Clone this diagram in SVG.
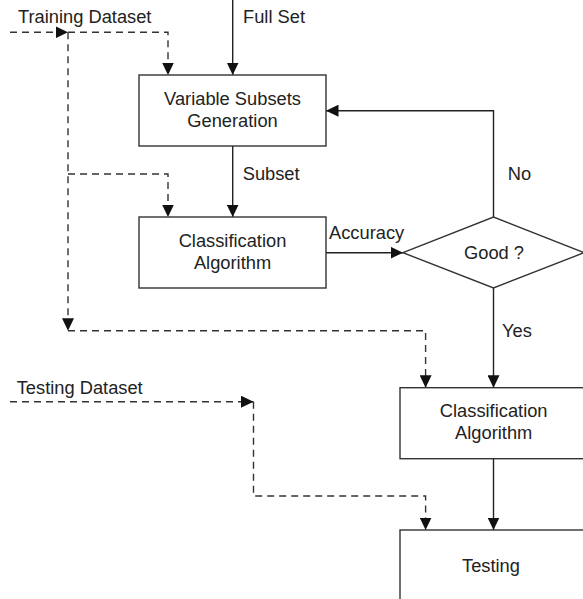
<svg xmlns="http://www.w3.org/2000/svg" width="583" height="599" viewBox="0 0 583 599">
<style>
  .box { fill: #fff; stroke: #333; stroke-width: 1.4; }
  .solid { fill: none; stroke: #222; stroke-width: 1.4; }
  .dash { fill: none; stroke: #333; stroke-width: 1.4; stroke-dasharray: 7 5; }
  text { font-family: "Liberation Sans", Arial, sans-serif; font-size: 18.3px; fill: #222; }
  .c { text-anchor: middle; }
</style>
<defs>
  <marker id="arr" markerUnits="userSpaceOnUse" markerWidth="13" markerHeight="12" refX="12.5" refY="6" orient="auto">
    <path d="M0,0 L12.5,6 L0,12 z" fill="#111"/>
  </marker>
</defs>
<rect width="583" height="599" fill="#fff"/>

<g id="connectors">
  <path class="solid" d="M232.7,0 V75" marker-end="url(#arr)"/>
  <path class="solid" d="M232.7,146 V217" marker-end="url(#arr)"/>
  <path class="solid" d="M326,252.7 H403" marker-end="url(#arr)"/>
  <path class="solid" d="M493.5,217 V110.7 H326" marker-end="url(#arr)"/>
  <path class="solid" d="M493.5,288 V387.7" marker-end="url(#arr)"/>
  <path class="solid" d="M493.5,458.7 V530" marker-end="url(#arr)"/>

  <path class="dash" d="M10,32.3 H68" marker-end="url(#arr)"/>
  <path class="dash" d="M68,32.3 H168 V75" marker-end="url(#arr)"/>
  <path class="dash" d="M68,32.3 V330.7" marker-end="url(#arr)"/>
  <path class="dash" d="M68,174 H168 V217" marker-end="url(#arr)"/>
  <path class="dash" d="M68,330.7 H425.6 V387.7" marker-end="url(#arr)"/>

  <path class="dash" d="M10,401.7 H253.5" marker-end="url(#arr)"/>
  <path class="dash" d="M253.5,401.7 V496 H425.6 V530" marker-end="url(#arr)"/>

  <text x="18" y="23">Training Dataset</text>
  <text x="243" y="23">Full Set</text>
  <text x="242.7" y="180">Subset</text>
  <text x="329" y="239">Accuracy</text>
  <text x="507.7" y="180">No</text>
  <text x="502" y="337">Yes</text>
  <text x="16.7" y="394">Testing Dataset</text>
</g>

<g id="variable-subsets-generation">
  <rect class="box" x="139" y="75" width="187" height="71"/>
  <text class="c" x="232.5" y="105">Variable Subsets</text>
  <text class="c" x="232.5" y="126.5">Generation</text>
</g>

<g id="classification-algorithm-1">
  <rect class="box" x="139" y="217" width="187" height="71"/>
  <text class="c" x="232.5" y="247">Classification</text>
  <text class="c" x="232.5" y="268.5">Algorithm</text>
</g>

<g id="good-decision">
  <path class="box" d="M403,252.7 L493.5,217 L584,252.7 L493.5,288 Z"/>
  <text class="c" x="494" y="258.5">Good ?</text>
</g>

<g id="classification-algorithm-2">
  <rect class="box" x="400" y="387.7" width="190" height="71"/>
  <text class="c" x="493.7" y="416.7">Classification</text>
  <text class="c" x="493.7" y="439.3">Algorithm</text>
</g>

<g id="testing">
  <rect class="box" x="400" y="530" width="190" height="80"/>
  <text class="c" x="491" y="572">Testing</text>
</g>
</svg>
